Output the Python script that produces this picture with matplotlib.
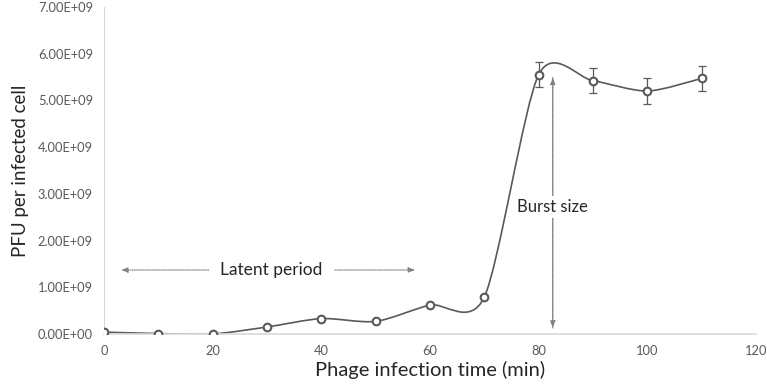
import numpy as np
import matplotlib.pyplot as plt
from matplotlib.path import Path
from matplotlib.patches import PathPatch
from matplotlib.ticker import FuncFormatter

plt.rcParams['font.family'] = ['Lato', 'DejaVu Sans']

# data
time_min = [0, 10, 20, 30, 40, 50, 60, 70, 80, 90, 100, 110]
pfu = [0.04e9, 0.01e9, 0.0, 0.15e9, 0.33e9, 0.27e9, 0.62e9, 0.79e9,
       5.55e9, 5.42e9, 5.20e9, 5.47e9]
err = [0, 0, 0, 0, 0, 0, 0, 0, 0.27e9, 0.27e9, 0.27e9, 0.27e9]

line_col = '#595959'
text_col = '#595959'

fig = plt.figure(figsize=(7.67, 3.86), dpi=100)
ax = fig.add_axes([0.1356, 0.1347, 0.850, 0.8473])

# smoothed line like Excel: cubic bezier segments between the points
x = np.array(time_min, dtype=float)
y = np.array(pfu, dtype=float)
n = len(x)
k = 1 / 7.5
verts = [(x[0], y[0])]
codes = [Path.MOVETO]
for i in range(n - 1):
    x0, y0 = (x[i - 1], y[i - 1]) if i > 0 else (x[i], y[i])
    x3, y3 = (x[i + 2], y[i + 2]) if i + 2 < n else (x[i + 1], y[i + 1])
    c1 = (x[i] + (x[i + 1] - x0) * k, y[i] + (y[i + 1] - y0) * k)
    c2 = (x[i + 1] - (x3 - x[i]) * k, y[i + 1] - (y3 - y[i]) * k)
    verts += [c1, c2, (x[i + 1], y[i + 1])]
    codes += [Path.CURVE4] * 3
ax.add_patch(PathPatch(Path(verts, codes), facecolor='none',
                       edgecolor=line_col, lw=1.2, zorder=2))

# error bars only where present
ex = [t for t, e in zip(time_min, err) if e > 0]
ey = [v for v, e in zip(pfu, err) if e > 0]
ee = [e for e in err if e > 0]
ax.errorbar(ex, ey, yerr=ee, fmt='none', ecolor=line_col, elinewidth=0.9,
            capsize=3, capthick=0.9, zorder=2)
ax.plot(time_min, pfu, 'o', ms=5.5, mfc='white', mec=line_col, mew=1.5,
        zorder=3)

# annotations
arr = dict(arrowstyle='-|>,head_length=0.4,head_width=0.15', color='#7f7f7f',
           lw=0.8, linestyle=(0, (1, 1)))
ax.annotate('', xy=(2.6, 1.37e9), xytext=(19.8, 1.37e9), arrowprops=arr)
ax.annotate('', xy=(57.8, 1.37e9), xytext=(42.0, 1.37e9), arrowprops=arr)
ax.text(30.8, 1.37e9, 'Latent period', ha='center', va='center',
        fontsize=12.5, color='#262626')
ax.annotate('', xy=(82.6, 0.07e9), xytext=(82.6, 5.55e9), arrowprops=arr)
ax.annotate('', xy=(82.6, 5.55e9), xytext=(82.6, 0.07e9), arrowprops=arr)
ax.text(82.6, 2.72e9, 'Burst size', ha='center', va='center', fontsize=12,
        color='#262626', bbox=dict(facecolor='white', edgecolor='none', pad=2))

ax.set_xlim(0, 120)
ax.set_ylim(0, 7e9)
ax.set_xticks(range(0, 121, 20))
ax.set_yticks(np.arange(0, 7.01e9, 1e9))
ax.yaxis.set_major_formatter(FuncFormatter(lambda v, p: '%.2E' % v))
ax.tick_params(length=0, labelsize=9.3, colors=text_col, pad=8)
for s in ['top', 'right']:
    ax.spines[s].set_visible(False)
ax.spines['left'].set_color('#d9d9d9')
ax.spines['bottom'].set_color('#d9d9d9')
ax.spines['bottom'].set_linewidth(1.2)
ax.set_xlabel('Phage infection time (min)', fontsize=14.5, color='#262626',
              labelpad=3)
ax.set_ylabel('PFU per infected cell', fontsize=13.5, color='#262626',
              labelpad=6)

fig.savefig('out.png', dpi=100)
